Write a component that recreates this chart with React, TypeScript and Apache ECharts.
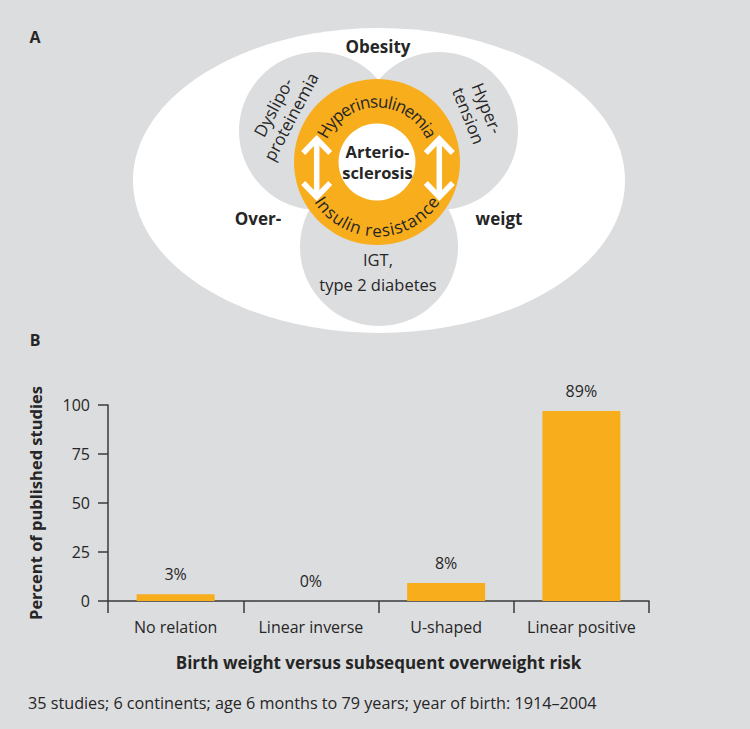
import React, { useEffect, useRef } from "react";
import * as echarts from "echarts";

// ---------- Data (panel B) ----------
const categories = ["No relation", "Linear inverse", "U-shaped", "Linear positive"];
const barValues = [3.4, 0, 9.2, 96.9];
const barLabels = ["3%", "0%", "8%", "89%"];
const yMin = 0;
const yMax = 100;
const yInterval = 25;
const yAxisTitle = "Percent of published studies";
const xAxisTitle = "Birth weight versus subsequent overweight risk";
const footnote = "35 studies; 6 continents; age 6 months to 79 years; year of birth: 1914\u20132004";

// ---------- Texts (panel A) ----------
const panelLetters = ["A", "B"];
const ringTopText = "Hyperinsulinemia";
const ringBottomText = "Insulin resistance";
const centerText = "Arterio-\nsclerosis";
const outerTexts = ["Obesity", "Over-", "weigt"];
const circleTexts = ["Dyslipo-\nproteinemia", "Hyper-\ntension", "IGT,\ntype 2 diabetes"];

const FONT = '"Open Sans", "Noto Sans", "DejaVu Sans", sans-serif';
const TEXT = "#262626";
const ORANGE = "#f8ad1d";
const BG = "#dcdddf";

function measure(text: string, size: number, weight: string) {
  const c = document.createElement("canvas").getContext("2d")!;
  c.font = `${weight} ${size}px "Open Sans"`;
  return c.measureText(text).width;
}

function arcText(text: string, cx: number, cy: number, R: number, size: number, top: boolean) {
  const widths = text.split("").map((ch) => measure(ch, size, "normal"));
  const total = widths.reduce((a, b) => a + b, 0);
  const span = total / R;
  let cum = 0;
  const els: any[] = [];
  text.split("").forEach((ch, i) => {
    const a = -span / 2 + (cum + widths[i] / 2) / R;
    cum += widths[i];
    const x = cx + R * Math.sin(a);
    const y = top ? cy - R * Math.cos(a) : cy + R * Math.cos(a);
    els.push({
      type: "text",
      x,
      y,
      rotation: top ? -a : a,
      z: 20,
      style: {
        text: ch,
        fill: TEXT,
        fontSize: size,
        fontFamily: FONT,
        align: "center",
        verticalAlign: "middle",
      },
    });
  });
  return els;
}

function arrow(x: number, yTop: number, yBot: number, half: number, head: number) {
  const st = { stroke: "#ffffff", lineWidth: 5.5, fill: "none", lineJoin: "miter", lineCap: "butt" };
  return [
    { type: "polyline", z: 15, shape: { points: [[x, yTop + 2], [x, yBot - 2]] }, style: st },
    { type: "polyline", z: 15, shape: { points: [[x - half, yTop + head], [x, yTop], [x + half, yTop + head]] }, style: st },
    { type: "polyline", z: 15, shape: { points: [[x - half, yBot - head], [x, yBot], [x + half, yBot - head]] }, style: st },
  ];
}

export default function App() {
  const ref = useRef<HTMLDivElement>(null);

  useEffect(() => {
    if (!ref.current) return;
    const chart = echarts.init(ref.current, undefined, { renderer: "svg" });

    const cx = 377;
    const cy = 162;
    const txt = (text: string, x: number, y: number, extra: any = {}) => ({
      type: "text",
      x,
      y,
      z: 20,
      rotation: extra.rotation || 0,
      style: {
        text,
        fill: TEXT,
        fontSize: extra.fontSize || 16,
        fontWeight: extra.fontWeight || "normal",
        fontFamily: FONT,
        align: extra.align || "center",
        verticalAlign: "middle",
        lineHeight: extra.lineHeight || 20,
      },
    });

    const graphics: any[] = [
      { type: "ellipse", z: 1, shape: { cx: 379, cy: 180.5, rx: 246, ry: 152.5 }, style: { fill: "#ffffff" } },
      { type: "circle", z: 2, shape: { cx: 318, cy: 131, r: 79 }, style: { fill: BG } },
      { type: "circle", z: 2, shape: { cx: 439, cy: 131, r: 79 }, style: { fill: BG } },
      { type: "circle", z: 2, shape: { cx: 379, cy: 247, r: 79 }, style: { fill: BG } },
      { type: "circle", z: 3, shape: { cx, cy, r: 83 }, style: { fill: ORANGE } },
      { type: "circle", z: 4, shape: { cx, cy, r: 38.5 }, style: { fill: "#ffffff" } },
      ...arrow(316.7, 139, 197, 13.5, 14),
      ...arrow(439.3, 139, 197, 13.5, 14),
      ...arcText(ringTopText, cx, cy, 61, 17, true),
      ...arcText(ringBottomText, cx, cy, 68, 17, false),
      txt(centerText, 377.5, 161.5, { fontWeight: "bold", fontSize: 16.5, lineHeight: 21 }),
      txt(outerTexts[0], 378, 46, { fontWeight: "bold", fontSize: 17 }),
      txt(outerTexts[1], 258, 218, { fontWeight: "bold", fontSize: 17 }),
      txt(outerTexts[2], 499, 218, { fontWeight: "bold", fontSize: 17 }),
      txt(circleTexts[0], 282, 112, { rotation: (62 * Math.PI) / 180, fontSize: 17, lineHeight: 20 }),
      txt(circleTexts[1], 478, 112, { rotation: (-68 * Math.PI) / 180, fontSize: 17, lineHeight: 20 }),
      txt(circleTexts[2], 378, 272, { fontSize: 16.5, lineHeight: 25 }),
      txt(panelLetters[0], 35, 37, { fontWeight: "bold", fontSize: 16 }),
      txt(panelLetters[1], 35, 340, { fontWeight: "bold", fontSize: 16 }),
      txt(footnote, 28, 703, { align: "left", fontSize: 16.2 }),
    ];

    const axisLine = { show: true, lineStyle: { color: "#3a3a3a", width: 1.5 } };

    chart.setOption({
      animation: false,
      backgroundColor: BG,
      textStyle: { fontFamily: FONT },
      grid: { left: 108, right: 101, top: 405, bottom: 128, containLabel: false },
      xAxis: {
        type: "category",
        data: categories,
        axisLine,
        axisTick: { show: true, alignWithLabel: false, interval: 0, length: 12, lineStyle: { color: "#3a3a3a", width: 1.5 } },
        axisLabel: { color: TEXT, fontSize: 16, margin: 18, fontFamily: FONT, interval: 0 },
        name: xAxisTitle,
        nameLocation: "middle",
        nameGap: 53,
        nameTextStyle: { color: TEXT, fontSize: 17, fontWeight: "bold", fontFamily: FONT },
      },
      yAxis: {
        type: "value",
        min: yMin,
        max: yMax,
        interval: yInterval,
        axisLine,
        axisTick: { show: true, length: 10, lineStyle: { color: "#3a3a3a", width: 1.5 } },
        splitLine: { show: false },
        axisLabel: { color: TEXT, fontSize: 16, margin: 18, fontFamily: FONT },
        name: yAxisTitle,
        nameLocation: "middle",
        nameGap: 64,
        nameTextStyle: { color: TEXT, fontSize: 16.5, fontWeight: "bold", fontFamily: FONT },
      },
      series: [
        {
          type: "bar",
          data: barValues,
          barWidth: 78,
          itemStyle: { color: ORANGE },
          label: {
            show: true,
            position: "top",
            distance: 12,
            color: TEXT,
            fontSize: 16,
            fontFamily: FONT,
            formatter: (p: any) => barLabels[p.dataIndex],
          },
        },
      ],
      graphic: { elements: graphics },
    });

    return () => chart.dispose();
  }, []);

  return (
    <div
      ref={ref}
      style={{ position: "fixed", left: 0, top: 0, width: 750, height: 729 }}
    />
  );
}
